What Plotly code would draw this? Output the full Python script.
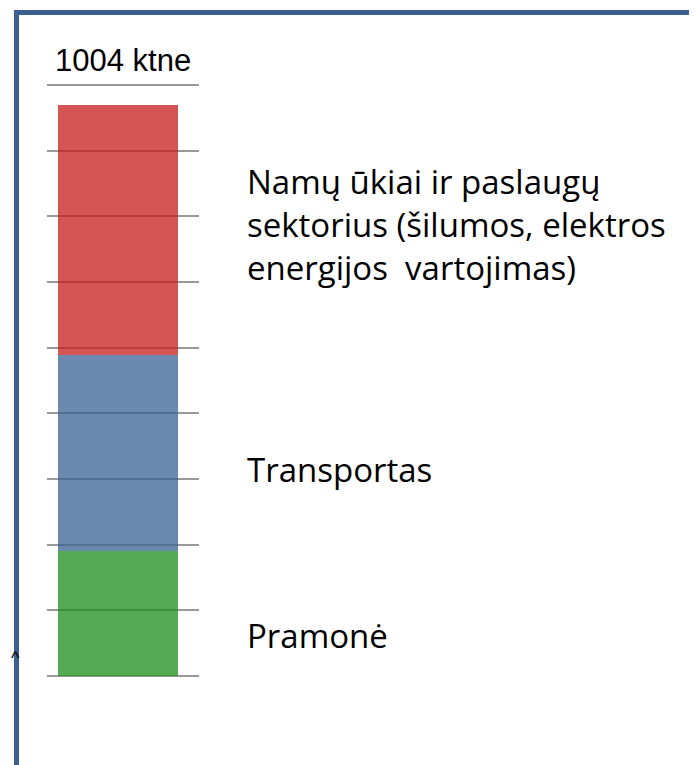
import plotly.graph_objects as go

# Data (ktne)
sectors = ["Pramonė", "Transportas",
           "Namų ūkiai ir paslaugų<br>sektorius (šilumos, elektros<br>energijos  vartojimas)"]
values = [220, 345, 439]
colors = ["rgba(28,142,28,0.75)", "rgba(57,96,147,0.75)", "rgba(199,27,27,0.75)"]
total_label = "1004 ktne"
grid_step = 115.56
grid_count = 10

fig = go.Figure()
for name, v, c in zip(sectors, values, colors):
    fig.add_trace(go.Bar(x=[0], y=[v], width=1, marker=dict(color=c, line=dict(width=0)),
                         name=name, showlegend=False))

# label positions: segment centers
cum = 0
label_shifts = [-22, -17, 6]
for name, v, sh in zip(sectors, values, label_shifts):
    center = cum + v / 2
    cum += v
    fig.add_annotation(x=0.5, y=center, xref="x", yref="y", xshift=67, yshift=sh,
                       text=name, showarrow=False, xanchor="left", yanchor="middle",
                       align="left", font=dict(family="Open Sans", size=33, color="black"))

fig.add_annotation(x=0.5, y=grid_step * (grid_count - 1), xref="paper", yref="y", yshift=24,
                   text=total_label, showarrow=False, xanchor="center", yanchor="middle",
                   font=dict(family="Liberation Sans", size=31, color="black"))

fig.add_annotation(x=-0.25, y=0.027, xref="paper", yref="paper", text="^", showarrow=False,
                   xanchor="left", font=dict(family="Liberation Sans", size=18, color="black"))

# frame
fig.add_shape(type="rect", xref="paper", yref="paper", x0=-0.2007, x1=4.5, y0=-0.2, y1=1.1023,
              line=dict(color="#3b5f8e", width=5), fillcolor="rgba(0,0,0,0)")

fig.update_layout(
    width=697, height=765, barmode="stack",
    margin=dict(l=39, r=506, t=67, b=87),
    paper_bgcolor="white", plot_bgcolor="white",
    xaxis=dict(range=[-0.595, 0.676], showgrid=False, showticklabels=False, zeroline=False,
               showline=False, ticks=""),
    yaxis=dict(range=[-17.6, 1057.6], tickvals=[i * grid_step for i in range(grid_count)],
               showticklabels=False, showgrid=True, gridcolor="#999999", gridwidth=2,
               zeroline=False, showline=False, ticks=""),
)

fig.write_html("out.html")
